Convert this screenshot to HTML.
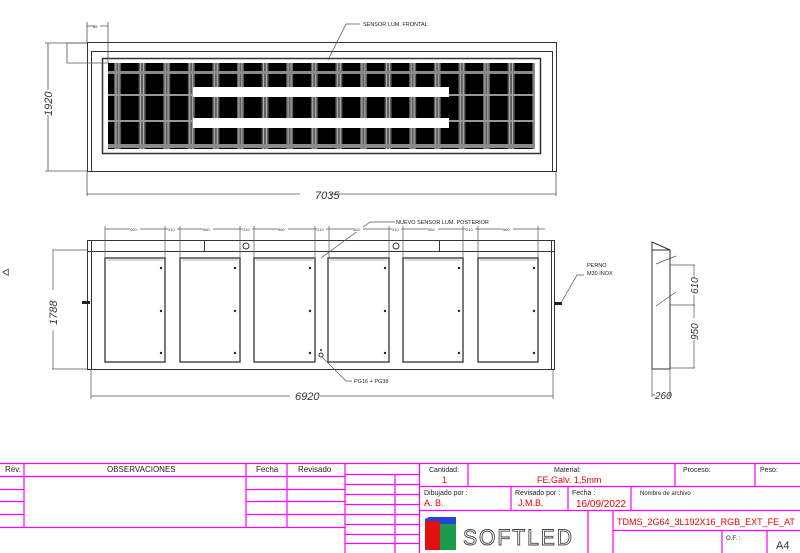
<!DOCTYPE html>
<html><head><meta charset="utf-8"><style>
html,body{margin:0;padding:0;background:#fff;width:800px;height:553px;overflow:hidden}
svg{display:block}
text{font-family:"Liberation Sans",sans-serif}
</style></head><body>
<svg width="800" height="553" viewBox="0 0 800 553" xmlns="http://www.w3.org/2000/svg">
<defs>
<pattern id="vb" x="114" y="0" width="24.6" height="553" patternUnits="userSpaceOnUse">
<rect x="0" y="0" width="7" height="553" fill="#5e5e5e"/>
<rect x="1.5" y="0" width="0.8" height="553" fill="#c8c8c8"/>
<rect x="4.5" y="0" width="0.8" height="553" fill="#c8c8c8"/>
</pattern>
</defs>
<g fill="none" stroke="#333" stroke-width="1">
<rect x="87.5" y="42.5" width="469" height="129"/>
<rect x="91.5" y="51.5" width="461" height="120"/>
<rect x="102.5" y="58.5" width="438" height="95" stroke-width="1.5"/>
</g>
<rect x="108" y="63" width="427" height="86" fill="#000"/>
<rect x="108" y="63" width="427" height="86" fill="url(#vb)"/>
<rect x="108" y="71" width="427" height="3" fill="#8a8a8a"/>
<rect x="108" y="94" width="85" height="2" fill="#9a9a9a"/>
<rect x="449" y="94" width="86" height="2" fill="#9a9a9a"/>
<rect x="108" y="120" width="427" height="2" fill="#9a9a9a"/>
<rect x="108" y="144" width="427" height="4" fill="#8a8a8a"/>
<rect x="193" y="87" width="256" height="10" fill="#fff"/>
<rect x="193" y="118" width="256" height="10" fill="#fff"/>
<g fill="none" stroke="#555" stroke-width="0.8">
<path d="M87 172V196M556 172V196M87 194H300M330 194H556"/>
<path d="M87 43H45M87 171H45M48 43V90M48 115V171"/>
<path d="M87 22V43M108 22V63M87 26H95M100 26H108"/>
<path d="M67 43V63M67 43H87M67 63H108"/>
<path d="M328 60L346 24H360"/>
</g>
<text x="315" y="199" font-size="11" font-style="italic" fill="#333">7035</text>
<text x="0" y="0" font-size="11" font-style="italic" fill="#333" transform="translate(52,116) rotate(-90)">1920</text>
<text x="93" y="28" font-size="4" fill="#333">88</text>
<text x="363" y="26" font-size="5.5" fill="#222">SENSOR LUM. FRONTAL</text>

<g fill="none" stroke="#333" stroke-width="1">
<rect x="87.5" y="240.5" width="467" height="129"/>
<path d="M91.5 240V370M551.5 240V370M87 251.5H555M204.5 241V251M439.5 241V251"/>
</g>
<g fill="none" stroke="#333" stroke-width="1.3">
<rect x="105" y="258" width="60" height="104"/>
<rect x="180" y="258" width="60" height="104"/>
<rect x="254" y="258" width="61" height="104"/>
<rect x="328" y="258" width="61" height="104"/>
<rect x="403" y="258" width="60" height="104"/>
<rect x="478" y="258" width="60" height="104"/>
</g>
<g fill="none" stroke="#777" stroke-width="0.6">
<path d="M107 260H163M182 260H238M256 260H313M330 260H387M405 260H461M480 260H536"/>
</g>
<g fill="#222">
<circle cx="161" cy="268" r="1.2"/><circle cx="161" cy="311" r="1.2"/><circle cx="161" cy="353" r="1.2"/>
<circle cx="235" cy="268" r="1.2"/><circle cx="235" cy="311" r="1.2"/><circle cx="235" cy="353" r="1.2"/>
<circle cx="310" cy="268" r="1.2"/><circle cx="310" cy="311" r="1.2"/><circle cx="310" cy="353" r="1.2"/>
<circle cx="385" cy="268" r="1.2"/><circle cx="385" cy="311" r="1.2"/><circle cx="385" cy="353" r="1.2"/>
<circle cx="459" cy="268" r="1.2"/><circle cx="459" cy="311" r="1.2"/><circle cx="459" cy="353" r="1.2"/>
<circle cx="534" cy="268" r="1.2"/><circle cx="534" cy="311" r="1.2"/><circle cx="534" cy="353" r="1.2"/>
<rect x="82" y="301" width="8" height="3"/>
<rect x="554" y="302" width="8" height="3"/>
<circle cx="321" cy="350" r="1"/>
</g>
<g fill="none" stroke="#333" stroke-width="1">
<circle cx="246" cy="246" r="3"/><circle cx="396" cy="246" r="3"/>
<circle cx="321" cy="355" r="2"/>
</g>
<g fill="none" stroke="#555" stroke-width="0.7">
<path d="M105 229H545M105 226V258M165 226V258M180 226V258M240 226V258M254 226V258M315 226V258M329 226V258M389 226V258M403 226V258M463 226V258M478 226V258M538 226V258"/>
<path d="M91 370V399M553 370V399M91 396H290M320 396H553"/>
<path d="M87 250H52M87 369H52M53 250V290M53 330V369"/>
<path d="M321 258L370 222H395"/>
<path d="M322 357L346 381H352"/>
<path d="M561 303L577 275H584"/>
</g>
<g fill="#fff"><rect x="130" y="226" width="10" height="6"/><rect x="168" y="226" width="9" height="6"/><rect x="203" y="226" width="10" height="6"/><rect x="243" y="226" width="9" height="6"/><rect x="278" y="226" width="10" height="6"/><rect x="317" y="226" width="9" height="6"/><rect x="353" y="226" width="10" height="6"/><rect x="392" y="226" width="9" height="6"/><rect x="428" y="226" width="10" height="6"/><rect x="466" y="226" width="9" height="6"/><rect x="503" y="226" width="10" height="6"/></g>
<g font-size="4" fill="#333"><text x="130" y="231">400</text><text x="168" y="231">210</text><text x="203" y="231">560</text><text x="243" y="231">210</text><text x="278" y="231">560</text><text x="317" y="231">210</text><text x="353" y="231">560</text><text x="392" y="231">210</text><text x="428" y="231">560</text><text x="466" y="231">210</text><text x="503" y="231">560</text></g>
<text x="295" y="400" font-size="11" font-style="italic" fill="#333">6920</text>
<text x="0" y="0" font-size="11" font-style="italic" fill="#333" transform="translate(57,325) rotate(-90)">1788</text>
<text x="396" y="224" font-size="5.5" fill="#222">NUEVO SENSOR LUM. POSTERIOR</text>
<text x="354" y="383" font-size="5.5" fill="#222">PG16 + PG38</text>
<text x="587" y="267" font-size="5.5" fill="#222">PERNO</text>
<text x="587" y="275" font-size="5.5" fill="#222">M30 INOX</text>
<text x="2" y="276" font-size="10" fill="#444">ᐊ</text>

<g fill="none" stroke="#333" stroke-width="1">
<path d="M652 242L670 250V369H652Z"/>
<path d="M652 250H670"/>
</g>
<g fill="none" stroke="#555" stroke-width="0.7">
<path d="M656 264L676 256M656 306L676 292"/>
<path d="M670 265H695M670 305H695M670 368H695M694 265V278M694 295V318M694 340V368"/>
<path d="M652 369V397M670 369V397M652 395H655M668 395H670"/>
</g>
<text x="0" y="0" font-size="10" font-style="italic" fill="#333" transform="translate(698,294) rotate(-90)">610</text>
<text x="0" y="0" font-size="10" font-style="italic" fill="#333" transform="translate(698,340) rotate(-90)">950</text>
<text x="655" y="399" font-size="10" font-style="italic" fill="#333">260</text>

<g fill="none" stroke="#f0f" stroke-width="1.2">
<path d="M0 463.5H420M0 476.5H345M0 489.5H24M0 501.5H24M0 514.5H24M0 527.5H345"/>
<path d="M246 489.5H345M246 501.5H345M246 514.5H345"/>
<path d="M24 463V527M246 463V527M287 463V527"/>
<path d="M345 474.5H420M345 484.5H420M345 494.5H420M345 504.5H420M345 514.5H420M345 524.5H420M345 534.5H420M345 543.5H420"/>
<path d="M345 463V553M395 474V553M419.5 463V553"/>
<path d="M419 463.5H800M419 486.5H800M419 510.5H800M613 530.5H800"/>
<path d="M468 463V486M675 463V486M755 463V486M511 486V510M568 486V510M631 486V510M588 510V553M613 510V553M722 530V553M767 530V553"/>
</g>
<g font-size="8" fill="#222">
<text x="5" y="472">Rev.</text>
<text x="107" y="472">OBSERVACIONES</text>
<text x="256" y="472">Fecha</text>
<text x="298" y="472">Revisado</text>
<text x="429" y="472" font-size="7">Cantidad:</text>
<text x="554" y="472" font-size="7">Material:</text>
<text x="683" y="472" font-size="7">Proceso:</text>
<text x="760" y="472" font-size="7">Peso:</text>
<text x="424" y="495" font-size="7">Dibujado por :</text>
<text x="515" y="495" font-size="7">Revisado por :</text>
<text x="572" y="495" font-size="7">Fecha :</text>
<text x="640" y="495" font-size="6">Nombre de archivo :</text>
<text x="726" y="540" font-size="6">O.F. :</text>
<text x="776" y="549" font-size="11" fill="#333">A4</text>
</g>
<g fill="#e00" font-size="9">
<text x="442" y="483">1</text>
<text x="537" y="483">FE.Galv.  1,5mm</text>
<text x="424" y="506">A.  B.</text>
<text x="518" y="506">J.M.B.</text>
<text x="576" y="507" font-size="10">16/09/2022</text>
<text x="617" y="525" font-size="9">TDMS_2G64_3L192X16_RGB_EXT_FE_AT</text>
</g>
<polygon points="425,519 429,517 456,517 456,525 440,525 425,521" fill="#2244dd"/>
<rect x="425" y="521" width="15" height="29" fill="#e31010"/>
<rect x="440" y="524" width="16" height="26" fill="#1a9a4a"/>
<text x="463" y="545" font-size="22" fill="#fff" stroke="#444" stroke-width="0.9" letter-spacing="2" textLength="111" lengthAdjust="spacingAndGlyphs">SOFTLED</text>
</svg>
</body></html>
